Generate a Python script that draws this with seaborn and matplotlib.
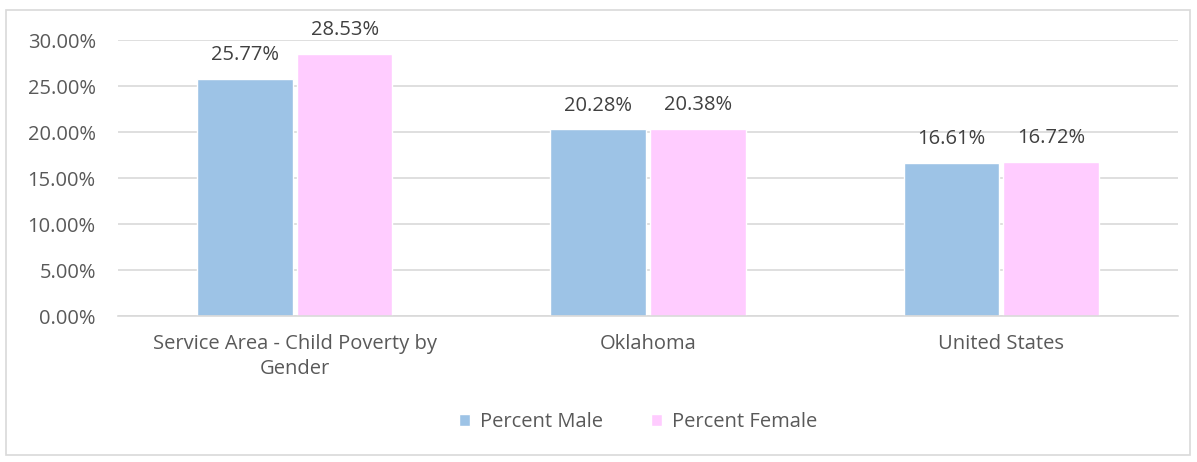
import pandas as pd
import matplotlib.pyplot as plt
import seaborn as sns
from matplotlib.patches import Rectangle
from matplotlib.ticker import FuncFormatter

# data
regions = ['Service Area - Child Poverty by\nGender', 'Oklahoma', 'United States']
series = ['Percent Male', 'Percent Female']
male = [0.2577, 0.2028, 0.1661]
female = [0.2853, 0.2038, 0.1672]
colors = ['#9DC3E6', '#FFCCFF']

df = pd.DataFrame({
    'Region': regions * 2,
    'Series': [series[0]] * 3 + [series[1]] * 3,
    'Value': male + female,
})

sns.set_theme(style='white')
plt.rcParams['font.family'] = ['Open Sans', 'DejaVu Sans']
text_color = '#595959'
grid_color = '#D9D9D9'
fs = 14.5

fig = plt.figure(figsize=(11.97, 4.62), dpi=100)
ax = fig.add_axes([118 / 1197, 1 - 316 / 462, 1060 / 1197, 276 / 462])

sns.barplot(data=df, x='Region', y='Value', hue='Series', palette=colors,
            width=0.565, gap=0.04, saturation=1, ax=ax, legend=True)

ax.set_ylim(0, 0.30)
ax.set_xlim(-0.5, 2.5)
ax.set_yticks([i * 0.05 for i in range(7)])
ax.yaxis.set_major_formatter(FuncFormatter(lambda v, p: f'{v * 100:.2f}%'))
ax.tick_params(axis='y', length=0, pad=16, labelsize=fs, labelcolor=text_color)
ax.tick_params(axis='x', length=0, pad=13, labelsize=fs, labelcolor=text_color)
for lbl in ax.get_xticklabels():
    lbl.set_linespacing(1.35)
ax.set_xticks([-0.5, 0.5, 1.5, 2.5], minor=True)
ax.tick_params(axis='x', which='minor', length=7, color=grid_color, width=1.2, direction='out')
ax.grid(axis='y', color=grid_color, linewidth=1.2)
ax.set_axisbelow(True)
for s in ['top', 'right', 'left']:
    ax.spines[s].set_visible(False)
ax.spines['bottom'].set_color(grid_color)
ax.spines['bottom'].set_linewidth(1.2)
ax.set_xlabel('')
ax.set_ylabel('')

for cont in ax.containers:
    ax.bar_label(cont, labels=[f'{v * 100:.2f}%' for v in cont.datavalues],
                 padding=10, fontsize=fs, color='#404040', clip_on=False)

leg = ax.legend(loc='center', bbox_to_anchor=(638 / 1197, 1 - 422 / 462), bbox_transform=fig.transFigure,
                ncol=2, frameon=False, fontsize=fs, handlelength=0.55, handleheight=0.55,
                columnspacing=2.4, handletextpad=0.5)
for t in leg.get_texts():
    t.set_color(text_color)

# chart frame
fig.patches.append(Rectangle((6 / 1197, 1 - 455 / 462), 1184 / 1197, 445 / 462,
                             transform=fig.transFigure, fill=False,
                             edgecolor=grid_color, linewidth=1.2))

fig.savefig('out.png', dpi=100)
